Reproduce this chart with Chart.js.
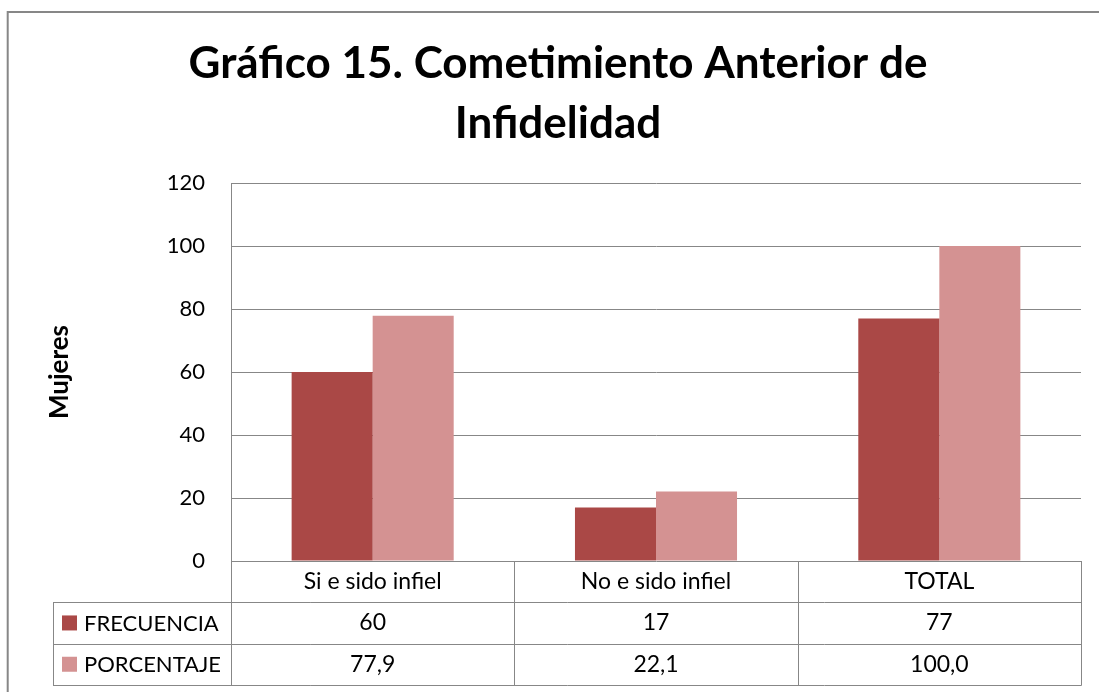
<!DOCTYPE html>
<html>
<head>
<meta charset="utf-8">
<script src="https://cdn.jsdelivr.net/npm/chart.js@4/dist/chart.umd.min.js"></script>
<style>
html,body{margin:0;padding:0;background:#fff;overflow:hidden;}
canvas{display:block;}
</style>
</head>
<body>
<canvas id="c" width="1099" height="692"></canvas>
<script>
const categories = ["Si e sido infiel", "No e sido infiel", "TOTAL"];
const seriesNames = ["FRECUENCIA", "PORCENTAJE"];
const frecuencia = [60, 17, 77];
const porcentaje = [77.9, 22.1, 100.0];
const yTicks = [0, 20, 40, 60, 80, 100, 120];
const titleLines = ["Gráfico 15. Cometimiento Anterior de", "Infidelidad"];
const yTitle = "Mujeres";

const COLORS = ["#AA4846", "#D49292"];
const GRID = "#878787";
const FONT = "Lato, 'Open Sans', sans-serif";

function fmtPct(v){ return v.toFixed(1).replace('.', ','); }
function fmtInt(v){ return String(v); }

const tablePlugin = {
  id: 'dataTable',
  beforeDraw(chart){
    const ctx = chart.ctx;
    ctx.save();
    ctx.strokeStyle = "#878787";
    ctx.lineWidth = 2;
    ctx.strokeRect(7.7, 12, 1120, 720);
    ctx.restore();
  },
  afterDraw(chart){
    const ctx = chart.ctx;
    const ca = chart.chartArea;
    const n = categories.length;
    const cw = (ca.right - ca.left) / n;
    const rowH = 41.3;
    const y0 = ca.bottom;
    const legendLeft = 53;
    ctx.save();
    ctx.strokeStyle = GRID;
    ctx.lineWidth = 1;
    const px = v => Math.round(v) + 0.5;
    ctx.beginPath();
    for (let r = 1; r <= 3; r++) {
      const y = px(y0 + r * rowH);
      ctx.moveTo(legendLeft, y); ctx.lineTo(px(ca.right), y);
    }
    for (let i = 0; i <= n; i++) {
      const x = px(ca.left + i * cw);
      ctx.moveTo(x, y0); ctx.lineTo(x, px(y0 + 3 * rowH));
    }
    ctx.moveTo(px(legendLeft), px(y0 + rowH)); ctx.lineTo(px(legendLeft), px(y0 + 3 * rowH));
    ctx.stroke();

    ctx.fillStyle = "#000";
    ctx.font = "23px " + FONT;
    ctx.textBaseline = "middle";
    ctx.textAlign = "center";
    const rows = [categories, frecuencia.map(fmtInt), porcentaje.map(fmtPct)];
    rows.forEach((row, r) => {
      const yc = y0 + r * rowH + rowH / 2;
      row.forEach((t, i) => {
        ctx.fillText(t, ca.left + (i + 0.5) * cw, yc);
      });
    });
    ctx.textAlign = "left";
    ctx.font = "22px " + FONT;
    chart.data.datasets.forEach((ds, k) => {
      const yc = y0 + (k + 1) * rowH + rowH / 2;
      ctx.fillStyle = ds.backgroundColor;
      ctx.fillRect(62, yc - 7.5, 15, 15);
      ctx.fillStyle = "#000";
      ctx.fillText(ds.label, 84, yc + 1);
    });
    ctx.restore();
  }
};

new Chart(document.getElementById('c'), {
  type: 'bar',
  data: {
    labels: categories,
    datasets: [
      { label: seriesNames[0], data: frecuencia, backgroundColor: COLORS[0] },
      { label: seriesNames[1], data: porcentaje, backgroundColor: COLORS[1] }
    ]
  },
  options: {
    responsive: false,
    animation: false,
    events: [],
    layout: { padding: { left: 35, right: 18, top: 0, bottom: 0 } },
    datasets: { bar: { categoryPercentage: 0.572, barPercentage: 1.0 } },
    plugins: {
      legend: { display: false },
      tooltip: { enabled: false },
      title: {
        display: true,
        text: titleLines,
        color: "#000",
        font: { family: FONT, size: 44, weight: 'bold', lineHeight: 1.364 },
        padding: { top: 34, bottom: 29 }
      }
    },
    scales: {
      x: {
        grid: { display: false },
        border: { display: false },
        ticks: { display: false },
        afterFit(scale){ scale.height = 131; }
      },
      y: {
        min: 0, max: 120,
        afterBuildTicks(scale){ scale.ticks = yTicks.map(v => ({ value: v })); },
        grid: { color: GRID, lineWidth: 1, drawTicks: false },
        border: { display: true, color: GRID, width: 1 },
        ticks: { color: "#000", font: { family: FONT, size: 22 }, padding: 26 },
        title: {
          display: true, text: yTitle, color: "#000",
          font: { family: FONT, size: 26, weight: 'bold', lineHeight: 1.2 },
          padding: { top: 9.4, bottom: 0 }
        },
        afterFit(scale){ scale.width = 196; }
      }
    }
  },
  plugins: [tablePlugin]
});
</script>
</body>
</html>
